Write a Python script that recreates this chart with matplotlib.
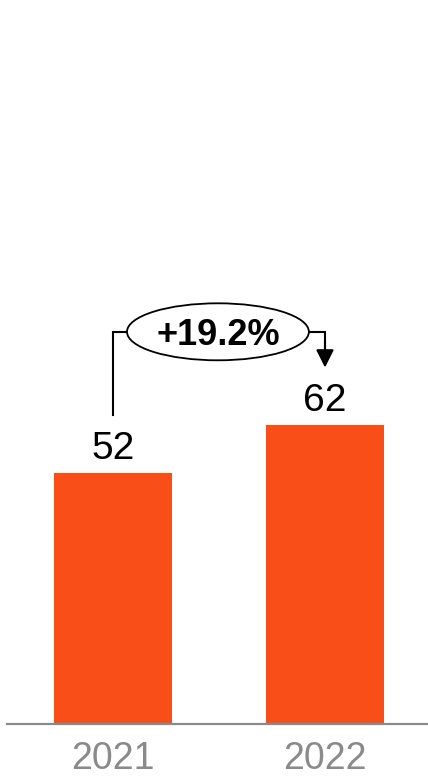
import matplotlib
matplotlib.use("Agg")
import matplotlib.pyplot as plt
from matplotlib.patches import Ellipse

years = ["2021", "2022"]
values = [52, 62]
growth_label = "+{:.1f}%".format((values[1] / values[0] - 1) * 100)

BAR_COLOR = "#F94E17"
GRAY = "#8A8A8A"
plt.rcParams["font.family"] = ["Liberation Sans", "DejaVu Sans"]

W, H, DPI = 428, 777, 100
fig = plt.figure(figsize=(W / DPI, H / DPI), dpi=DPI)
base_px = 53
ax = fig.add_axes([0, base_px / H, 1, (H - base_px) / H])
px_per_unit_y = 4.83
ax.set_ylim(0, (H - base_px) / px_per_unit_y)
px_per_unit_x = 212
ax.set_xlim(-113 / px_per_unit_x, (W - 113) / px_per_unit_x)
ax.axis("off")

x = list(range(len(years)))
ax.bar(x, values, width=118 / px_per_unit_x, color=BAR_COLOR, zorder=2)
ax.axhline(0, xmin=7 / W, xmax=1, color=GRAY, lw=1.6, zorder=3, clip_on=False)

for xi, v in zip(x, values):
    ax.annotate(str(v), (xi, v), xytext=(0, 10), textcoords="offset points",
                ha="center", va="baseline", fontsize=28, color="black")

for xi, yr in zip(x, years):
    ax.annotate(yr, (xi, 0), xytext=(0, -32.5), textcoords="offset points",
                ha="center", va="baseline", fontsize=27, color=GRAY,
                annotation_clip=False)

# growth bracket
top = max(values) + 19.2
left_bottom = values[0] + 12
tip = values[1] + 11.8
ecx, ew, eh = 0.495, 0.858, 11.8
ax.plot([x[0], x[0], ecx - ew / 2], [left_bottom, top, top], color="black", lw=1.5,
        solid_joinstyle="miter", zorder=4)
ax.plot([ecx + ew / 2, x[1], x[1]], [top, top, tip + 3], color="black", lw=1.5,
        solid_joinstyle="miter", zorder=4)
ax.annotate("", xy=(x[1], tip), xytext=(x[1], top - 2),
            arrowprops=dict(arrowstyle="-|>,head_length=1.0,head_width=0.5",
                            mutation_scale=10.8, lw=1.5, color="black",
                            shrinkA=0, shrinkB=0), zorder=4)
ax.add_patch(Ellipse((ecx, top), ew, eh, facecolor="white", edgecolor="black",
                     lw=1.3, zorder=5))
ax.text(ecx, top, growth_label, ha="center", va="center_baseline", fontsize=26,
        fontweight="bold", color="black", zorder=6)

fig.savefig("out.png", dpi=DPI)
